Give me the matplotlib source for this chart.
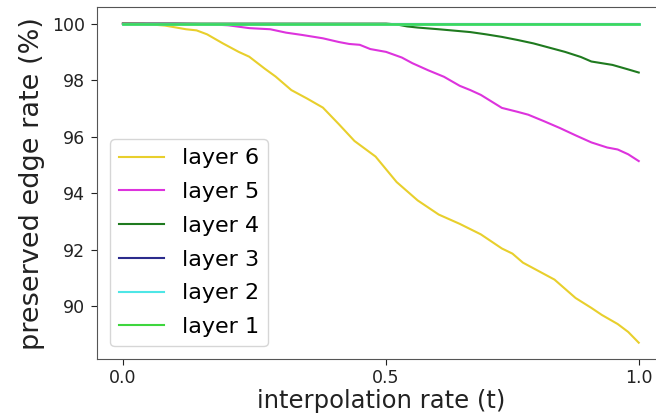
import matplotlib
matplotlib.use("Agg")
import matplotlib.pyplot as plt

# sample index (0..98) of the interpolation grid
x6 = [0, 4, 8, 12, 14, 16, 19, 22, 24, 27, 29, 32, 35, 38, 41, 44, 48, 52, 56, 60,
      64, 68, 72, 74, 76, 79, 82, 86, 89, 91, 94, 96, 98]
layer6 = [100.0, 99.99, 99.93, 99.8, 99.76, 99.62, 99.3, 99.0, 98.83, 98.4, 98.13, 97.65,
          97.35, 97.03, 96.45, 95.85, 95.3, 94.4, 93.75, 93.25, 92.92, 92.55, 92.05, 91.87,
          91.55, 91.25, 90.95, 90.3, 89.95, 89.7, 89.38, 89.1, 88.72]

x5 = [0, 10, 16, 20, 24, 28, 31, 34, 38, 41, 43, 45, 47, 50, 53, 55, 58, 61, 64, 66, 68,
      70, 72, 75, 77, 80, 83, 86, 89, 92, 94, 96, 98]
layer5 = [100.0, 100.0, 99.98, 99.94, 99.84, 99.8, 99.68, 99.6, 99.48, 99.35, 99.28, 99.25,
          99.1, 99.0, 98.8, 98.6, 98.35, 98.12, 97.8, 97.65, 97.48, 97.25, 97.02, 96.88,
          96.78, 96.55, 96.31, 96.05, 95.8, 95.62, 95.55, 95.38, 95.14]

x4 = [0, 50, 52, 54, 56, 60, 63, 66, 69, 72, 75, 78, 81, 84, 87, 89, 91, 93, 96, 98]
layer4 = [100.0, 100.0, 99.97, 99.9, 99.86, 99.8, 99.75, 99.7, 99.62, 99.53, 99.42, 99.3,
          99.15, 99.0, 98.82, 98.66, 98.6, 98.54, 98.38, 98.27]

x_flat = [0, 98]
layer3 = [100.0, 100.0]
layer2 = [100.0, 100.0]
layer1 = [100.0, 100.0]

xtick_pos = [0, 50, 98]
xtick_labels = ["0.0", "0.5", "1.0"]
yticks = [90, 92, 94, 96, 98, 100]

fig = plt.figure(figsize=(6.56, 4.15), dpi=100)
ax = fig.add_axes([0.148, 0.134, 0.865, 0.848])

ax.plot(x6, layer6, color="#e8cf2c", lw=1.5, label="layer 6")
ax.plot(x5, layer5, color="#dd33dd", lw=1.5, label="layer 5")
ax.plot(x4, layer4, color="#1f7a1f", lw=1.5, label="layer 4")
ax.plot(x_flat, layer3, color="#2b2b8c", lw=1.5, label="layer 3")
ax.plot(x_flat, layer2, color="#4ee6e6", lw=2.0, label="layer 2")
ax.plot(x_flat, layer1, color="#3ed63e", lw=1.8, alpha=0.85, label="layer 1")

ax.set_ylim(88.13, 100.57)
ax.set_xlim(-4.9, 102.9)
ax.set_xticks(xtick_pos)
ax.set_xticklabels(xtick_labels)
ax.set_yticks(yticks)
ax.tick_params(labelsize=12.5, colors="#222222", length=4.5, pad=4)
ax.tick_params(axis="x", length=4, pad=3)
for s in ax.spines.values():
    s.set_color("#555555")

ax.set_xlabel("interpolation rate (t)", fontsize=17.5, color="#222222", labelpad=1)
ax.set_ylabel("preserved edge rate (%)", fontsize=19.5, color="#222222", labelpad=5)

leg = ax.legend(loc="lower left", fontsize=16, handlelength=2.0,
                borderaxespad=0.6, labelspacing=0.62)
for line in leg.get_lines():
    line.set_linewidth(1.5)
    line.set_alpha(1.0)

fig.savefig("out.png", dpi=100)
